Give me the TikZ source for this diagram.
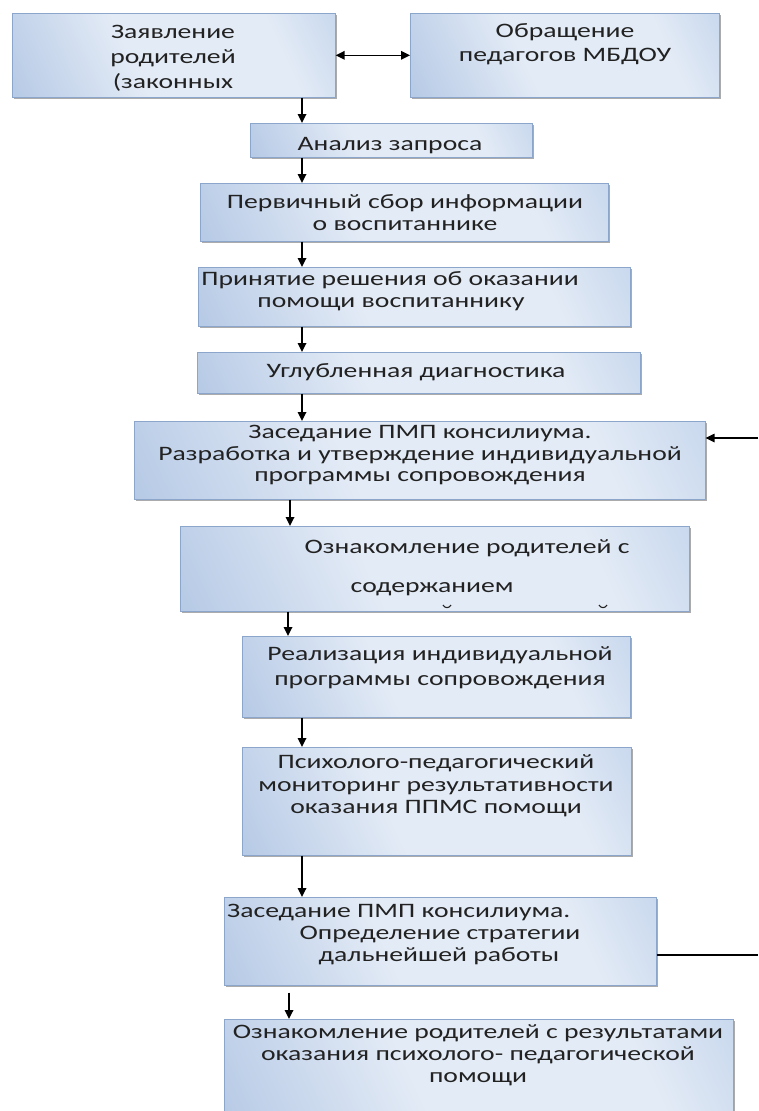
\documentclass[tikz,border=0pt]{standalone}
\usepackage{fontspec}
\setmainfont{Carlito}[FakeStretch=1.35]
\usetikzlibrary{arrows.meta,shadows,calc}
\definecolor{bdark}{HTML}{98B3DA}
\definecolor{blight}{HTML}{E3EBF6}
\definecolor{bmid}{HTML}{A8C1E3}
\definecolor{bedge}{HTML}{8CA6CB}
\definecolor{txt}{HTML}{222222}
\pgfdeclarehorizontalshading{boxshade}{100bp}{color(0bp)=(bdark); color(42bp)=(blight); color(70bp)=(blight); color(100bp)=(bmid)}
\tikzset{
  box/.style={draw=bedge, line width=0.6pt, shading=boxshade, shading angle=25,
    anchor=north west, inner sep=0pt,
    drop shadow={shadow xshift=1.8pt, shadow yshift=-1.8pt, fill=black!55, opacity=0.6}},
  ln/.style={anchor=base, inner sep=0pt, text=txt, font=\fontsize{20.5}{24}\selectfont},
  lnw/.style={ln, anchor=base west},
  arr/.style={-{Triangle[length=9pt,width=8.5pt]}, line width=1.7pt, black},
  darr/.style={{Triangle[length=9pt,width=8.5pt]}-{Triangle[length=9pt,width=8.5pt]}, line width=1.6pt, black},
  fb/.style={line width=1.2pt, black}
}
\begin{document}
\begin{tikzpicture}[x=1pt,y=-1pt]
\useasboundingbox[fill=white] (0,0) rectangle (758,1111);
% boxes
\node[box, minimum width=323pt, minimum height=84pt] (b1) at (12,13) {};
\node[box, minimum width=309pt, minimum height=84pt] (b2) at (410,13) {};
\node[box, minimum width=282pt, minimum height=34pt] (b3) at (250,123) {};
\node[box, minimum width=408pt, minimum height=58pt] (b4) at (200,183) {};
\node[box, minimum width=432pt, minimum height=59pt] (b5) at (198,267) {};
\node[box, minimum width=443pt, minimum height=41pt] (b6) at (197,352) {};
\node[box, minimum width=571pt, minimum height=78pt] (b7) at (134,421) {};
\node[box, minimum width=509pt, minimum height=85pt] (b8) at (180,526) {};
\node[box, minimum width=388pt, minimum height=81pt] (b9) at (242,636) {};
\node[box, minimum width=389pt, minimum height=108pt] (b10) at (242,747) {};
\node[box, minimum width=432pt, minimum height=88pt] (b11) at (224,897) {};
\node[box, minimum width=509pt, minimum height=110pt] (b12) at (224,1019) {};
% texts
\node[ln] (t1a) at (173,38) {Заявление};
\node[ln] (t1b) at (173,63) {родителей};
\node[ln] (t1c) at (173,88) {(законных};
\node[ln] (t2a) at (565,37) {Обращение};
\node[ln] (t2b) at (565,61) {педагогов МБДОУ};
\node[ln] (t3a) at (390,150) {Анализ запроса};
\node[ln] (t4a) at (405,208) {Первичный сбор информации};
\node[ln] (t4b) at (405,230) {о воспитаннике};
\node[ln] (t5a) at (390,285) {Принятие решения об оказании};
\node[ln] (t5b) at (391,307) {помощи воспитаннику};
\node[ln] (t6a) at (416,377) {Углубленная диагностика};
\node[ln] (t7a) at (420,438) {Заседание ПМП консилиума.};
\node[ln] (t7b) at (420,460) {Разработка и утверждение индивидуальной};
\node[ln] (t7c) at (420,481) {программы сопровождения};
\node[ln] (t8a) at (467,553) {Ознакомление родителей с};
\node[ln] (t8b) at (432,592) {содержанием};
\node[ln] (t9a) at (440,660) {Реализация индивидуальной};
\node[ln] (t9b) at (440,685) {программы сопровождения};
\node[ln] (t10a) at (436,768) {Психолого-педагогический};
\node[ln] (t10b) at (436,791) {мониторинг результативности};
\node[ln] (t10c) at (436,813) {оказания ППМС помощи};
\node[lnw] (t11a) at (227,917) {Заседание ПМП консилиума.};
\node[ln] (t11b) at (440,939) {Определение стратегии};
\node[ln] (t11c) at (439,961) {дальнейшей работы};
\node[ln] (t12a) at (478,1038) {Ознакомление родителей с результатами};
\node[ln] (t12b) at (478,1060) {оказания психолого- педагогической};
\node[ln] (t12c) at (478,1082) {помощи};
% remnants of clipped text in box 8
\draw[txt, line width=1.1pt] (443,605) .. controls (445,608.5) and (449,608.5) .. (451,605);
\draw[txt, line width=1.1pt] (599,605) .. controls (601,608.5) and (605,608.5) .. (607,605);
% arrow columns
\coordinate (c1) at (302,0);
\coordinate (c2) at (290,0);
\coordinate (c3) at (288,0);
\coordinate (c4) at (289,0);
% connectors
\draw[darr] (b1.east) -- (b2.west);
\draw[arr] (b1.south -| c1) -- (b3.north -| c1);
\draw[arr] (b3.south -| c1) -- (b4.north -| c1);
\draw[arr] (b4.south -| c1) -- (b5.north -| c1);
\draw[arr] (b5.south -| c1) -- (b6.north -| c1);
\draw[arr] (b6.south -| c1) -- (b7.north -| c1);
\draw[arr] (b7.south -| c2) -- (b8.north -| c2);
\draw[arr] (b8.south -| c3) -- (b9.north -| c3);
\draw[arr] (b9.south -| c1) -- (b10.north -| c1);
\draw[arr] (b10.south -| c1) -- (b11.north -| c1);
\draw[arr] ($(b11.south -| c4)+(0,7)$) -- (b12.north -| c4);
% feedback loop ends
\coordinate (r1) at (758,438);
\coordinate (r2) at (758,955);
\draw[arr, line width=1.3pt] (r1) -- (b7.east |- r1);
\draw[fb] (b11.east |- r2) -- (r2);
\end{tikzpicture}
\end{document}
